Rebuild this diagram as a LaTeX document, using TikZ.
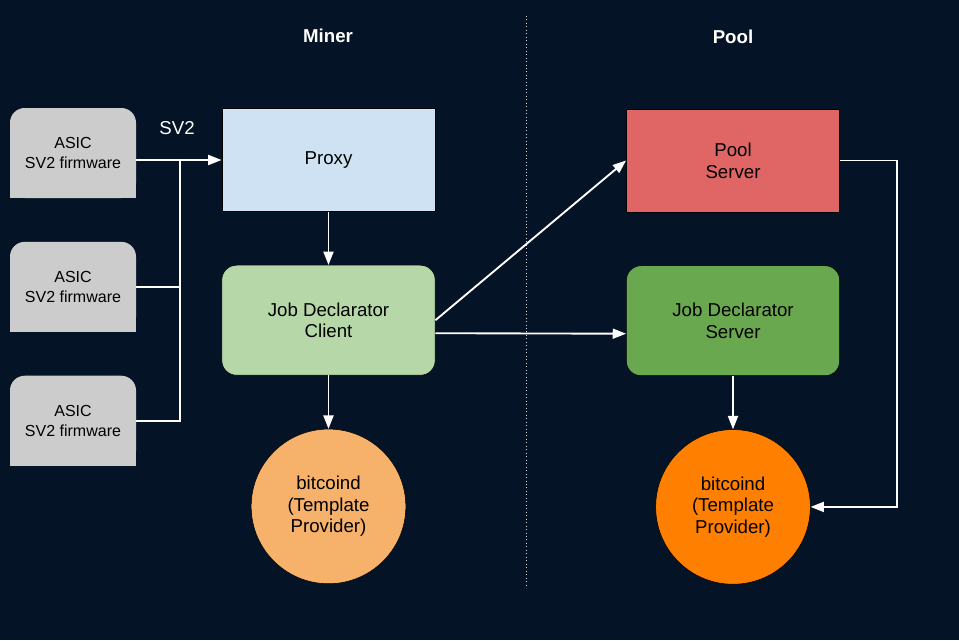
\documentclass[tikz,border=0pt]{standalone}
\usepackage{fontspec}
\setmainfont{Liberation Sans}
\usepackage{xcolor}
\usepackage{tikz}
\usetikzlibrary{shapes.geometric, arrows.meta, positioning}
\definecolor{bg}{HTML}{051326}
\definecolor{asicgray}{HTML}{CCCCCC}
\definecolor{proxyblue}{HTML}{CFE2F3}
\definecolor{jdcgreen}{HTML}{B6D7A8}
\definecolor{tplight}{HTML}{F6B26B}
\definecolor{poolred}{HTML}{E06666}
\definecolor{jdsgreen}{HTML}{6AA84F}
\definecolor{tporange}{HTML}{FF8000}
\tikzstyle{asic} = [rectangle, rounded corners=11pt, minimum width=94.5pt, minimum height=67.5pt, text centered, align=center, fill=asicgray, font=\fontsize{12}{15}\selectfont]
\tikzstyle{box} = [rectangle, minimum width=160pt, minimum height=77pt, text centered, align=center, draw=black, font=\fontsize{14}{16.3}\selectfont]
\tikzstyle{roundbox} = [box, rounded corners=11pt, minimum height=82.5pt]
\tikzstyle{tp} = [circle, minimum size=116pt, inner sep=0pt, text centered, align=center, draw=black, font=\fontsize{14}{16.3}\selectfont]
\tikzstyle{title} = [text=white, font=\bfseries\fontsize{14}{16}\selectfont]
\tikzstyle{wire} = [white, line width=1.4pt]
\tikzstyle{arrow} = [wire, -{Triangle[length=10pt,width=7.5pt]}]

\begin{document}
\begin{tikzpicture}[x=0.75pt, y=-0.75pt, node distance=40pt]
        \useasboundingbox (0,0) rectangle (959,640);
        \fill [bg] (0,0) rectangle (959,640);
        \draw [white!70!gray, dotted, line width=0.6pt] (526,16) -- (526,588);
        \node (miner) [title] at (328,36) {Miner};
        \node (pooltitle) [title] at (733,37) {Pool};
        % miner side
        \node (asic1) [asic] at (73,153) {ASIC\\SV2 firmware};
        \node (asic2) [asic, below=32.5pt of asic1] {ASIC\\SV2 firmware};
        \node (asic3) [asic, below=32.5pt of asic2] {ASIC\\SV2 firmware};
        \fill [asicgray] (asic1.south west) rectangle ([yshift=12pt]asic1.south east);
        \fill [asicgray] (asic2.south west) rectangle ([yshift=12pt]asic2.south east);
        \fill [asicgray] (asic3.south west) rectangle ([yshift=12pt]asic3.south east);
        \node (proxy) [box, fill=proxyblue] at (328.5,160) {Proxy};
        \node (jdc) [roundbox, fill=jdcgreen, below=of proxy] {Job Declarator\\Client};
        \node (tpminer) [tp, fill=tplight, below=of jdc] {bitcoind\\(Template\\Provider)};
        \node (sv2) [text=white, font=\fontsize{14}{16}\selectfont] at (177,128) {SV2};
        \coordinate (bus) at (180,160);
        \draw [arrow] (asic1.east |- proxy.west) -- (proxy.west);
        \draw [wire] (asic2.east) -- (asic2.east -| bus);
        \draw [wire] (asic3.east) -| (bus);
        \draw [arrow] (proxy) -- (jdc);
        \draw [arrow] (jdc) -- (tpminer);
        % pool side
        \node (pool) [box, fill=poolred] at (733,160.5) {Pool\\Server};
        \node (jds) [roundbox, fill=jdsgreen, below=of pool] {Job Declarator\\Server};
        \node (tppool) [tp, fill=tporange, below=of jds] {bitcoind\\(Template\\Provider)};
        \draw [arrow] (jdc.east) -- (pool.west);
        \draw [arrow] ([yshift=-9.75pt]jdc.east) -- ([yshift=-9.75pt]jds.west);
        \draw [arrow] (jds) -- (tppool);
        \draw [arrow] (pool.east) -- ++(57,0) |- (tppool.east);
    \end{tikzpicture}
\end{document}
